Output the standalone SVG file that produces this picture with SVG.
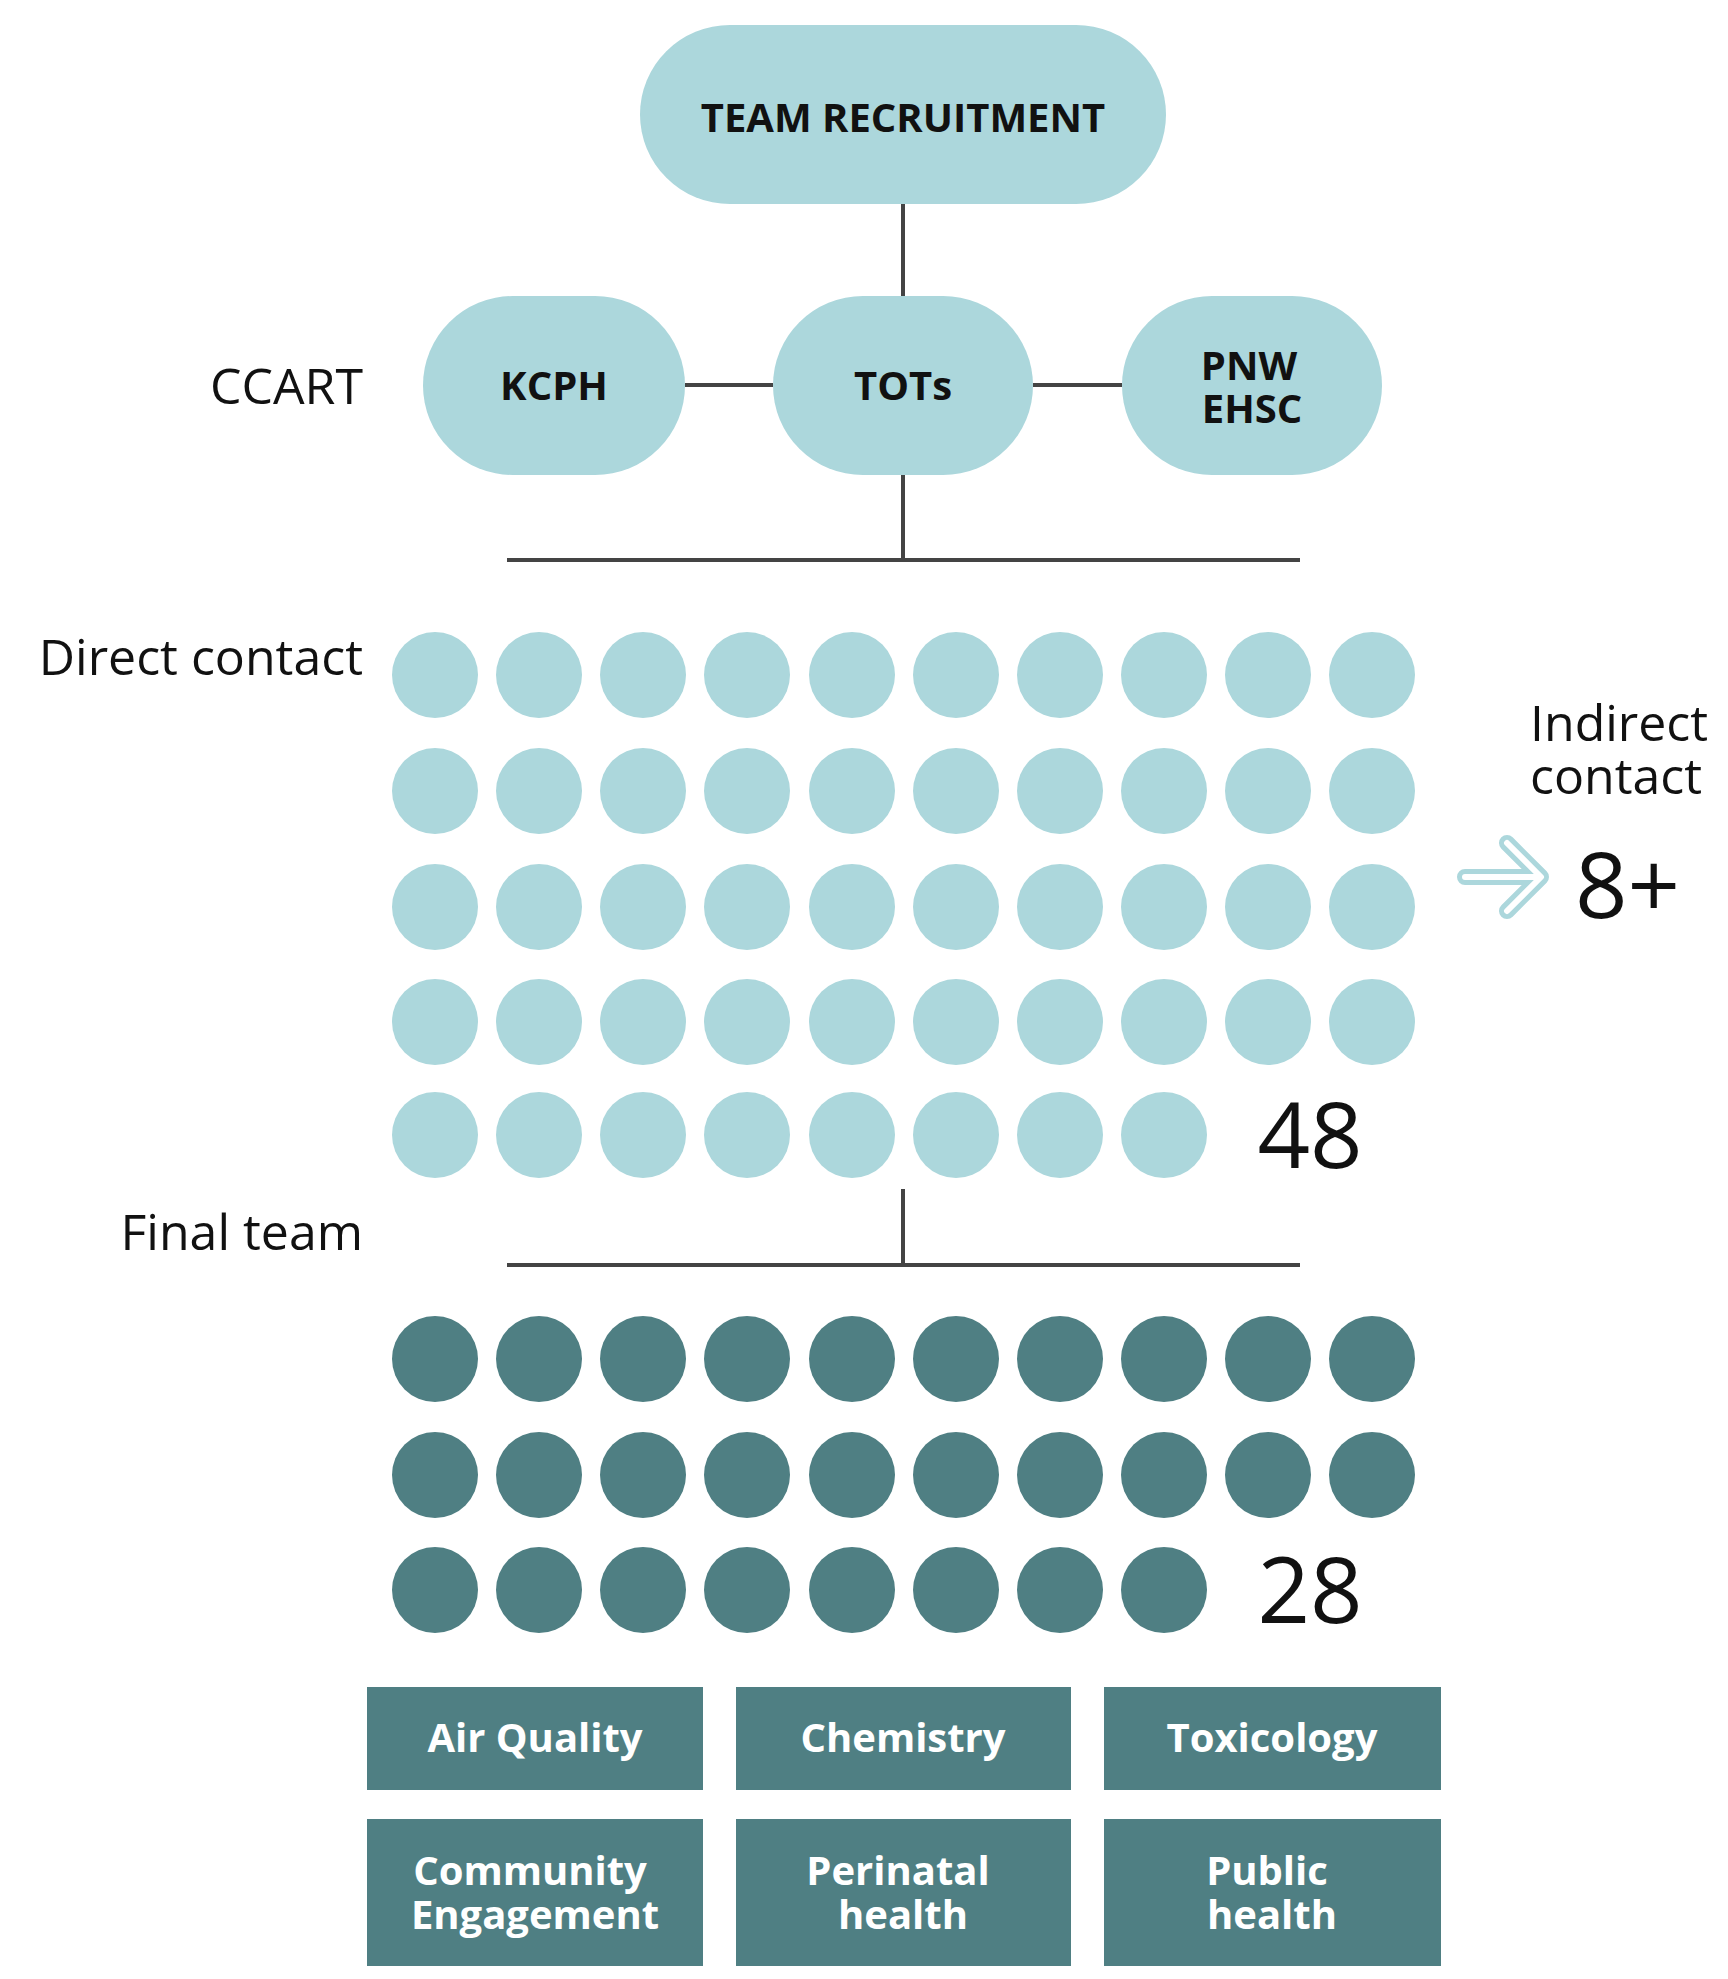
<svg xmlns="http://www.w3.org/2000/svg" width="1728" height="1979" viewBox="0 0 1728 1979">
<style>
.pill{fill:#acd7dc}
.lbl{font-family:"Open Sans",sans-serif;font-weight:bold;font-size:40px;fill:#111;text-anchor:middle}
.side{font-family:"Open Sans",sans-serif;font-size:50px;fill:#111}
.big{font-family:"Open Sans",sans-serif;font-size:92px;fill:#111}
.lt{fill:#acd7dc}
.dk{fill:#4f7f83}
.box{fill:#4f7f83}
.bl{font-family:"Open Sans",sans-serif;font-weight:bold;font-size:40px;fill:#fff;text-anchor:middle}
.ln{stroke:#444;stroke-width:4;fill:none}
</style>
<rect width="1728" height="1979" fill="#fff"/>
<g transform="translate(-5,-3)">
<g id="connectors">
<line class="ln" x1="908" y1="207" x2="908" y2="299"/>
<line class="ln" x1="690" y1="388" x2="778" y2="388" stroke-width="5"/>
<line class="ln" x1="1038" y1="388" x2="1127" y2="388" stroke-width="5"/>
<line class="ln" x1="908" y1="478" x2="908" y2="563"/>
<line class="ln" x1="512" y1="563" x2="1305" y2="563"/>
<line class="ln" x1="908" y1="1192" x2="908" y2="1268"/>
<line class="ln" x1="512" y1="1268" x2="1305" y2="1268"/>
<path d="M1470 880 H1542 M1512 846 L1546 880 L1512 914" fill="none" stroke="#acd7dc" stroke-width="16" stroke-linecap="round" stroke-linejoin="round"/>
<path d="M1470 880 H1542 M1512 846 L1546 880 L1512 914" fill="none" stroke="#fff" stroke-width="6" stroke-linecap="round" stroke-linejoin="round"/>
</g>
<g id="team-recruitment"><rect class="pill" x="645" y="28" width="526" height="179" rx="90"/><text class="lbl" x="908" y="135">TEAM RECRUITMENT</text></g>
<g id="kcph"><rect class="pill" x="428" y="299" width="262" height="179" rx="90"/><text class="lbl" x="559" y="403">KCPH</text></g>
<g id="tots"><rect class="pill" x="778" y="299" width="260" height="179" rx="90"/><text class="lbl" x="908" y="403">TOTs</text></g>
<g id="pnw"><rect class="pill" x="1127" y="299" width="260" height="179" rx="90"/><text class="lbl" x="1254" y="383">PNW</text><text class="lbl" x="1257" y="426">EHSC</text></g>
<text class="side" x="368" y="407" text-anchor="end">CCART</text>
<text class="side" x="368" y="678" text-anchor="end">Direct contact</text>
<text class="side" x="1535" y="744">Indirect</text>
<text class="side" x="1535" y="797">contact</text>
<text class="big" x="1580" y="921">8+</text>
<text class="side" x="368" y="1253" text-anchor="end">Final team</text>
<g id="direct-contact" class="lt">
<g><circle cx="440" cy="678" r="43"/><circle cx="544" cy="678" r="43"/><circle cx="648" cy="678" r="43"/><circle cx="752" cy="678" r="43"/><circle cx="857" cy="678" r="43"/><circle cx="961" cy="678" r="43"/><circle cx="1065" cy="678" r="43"/><circle cx="1169" cy="678" r="43"/><circle cx="1273" cy="678" r="43"/><circle cx="1377" cy="678" r="43"/></g>
<g><circle cx="440" cy="794" r="43"/><circle cx="544" cy="794" r="43"/><circle cx="648" cy="794" r="43"/><circle cx="752" cy="794" r="43"/><circle cx="857" cy="794" r="43"/><circle cx="961" cy="794" r="43"/><circle cx="1065" cy="794" r="43"/><circle cx="1169" cy="794" r="43"/><circle cx="1273" cy="794" r="43"/><circle cx="1377" cy="794" r="43"/></g>
<g><circle cx="440" cy="910" r="43"/><circle cx="544" cy="910" r="43"/><circle cx="648" cy="910" r="43"/><circle cx="752" cy="910" r="43"/><circle cx="857" cy="910" r="43"/><circle cx="961" cy="910" r="43"/><circle cx="1065" cy="910" r="43"/><circle cx="1169" cy="910" r="43"/><circle cx="1273" cy="910" r="43"/><circle cx="1377" cy="910" r="43"/></g>
<g><circle cx="440" cy="1025" r="43"/><circle cx="544" cy="1025" r="43"/><circle cx="648" cy="1025" r="43"/><circle cx="752" cy="1025" r="43"/><circle cx="857" cy="1025" r="43"/><circle cx="961" cy="1025" r="43"/><circle cx="1065" cy="1025" r="43"/><circle cx="1169" cy="1025" r="43"/><circle cx="1273" cy="1025" r="43"/><circle cx="1377" cy="1025" r="43"/></g>
<g><circle cx="440" cy="1138" r="43"/><circle cx="544" cy="1138" r="43"/><circle cx="648" cy="1138" r="43"/><circle cx="752" cy="1138" r="43"/><circle cx="857" cy="1138" r="43"/><circle cx="961" cy="1138" r="43"/><circle cx="1065" cy="1138" r="43"/><circle cx="1169" cy="1138" r="43"/></g>
</g>
<text class="big" x="1315" y="1171" text-anchor="middle">48</text>
<g id="final-team" class="dk">
<g><circle cx="440" cy="1362" r="43"/><circle cx="544" cy="1362" r="43"/><circle cx="648" cy="1362" r="43"/><circle cx="752" cy="1362" r="43"/><circle cx="857" cy="1362" r="43"/><circle cx="961" cy="1362" r="43"/><circle cx="1065" cy="1362" r="43"/><circle cx="1169" cy="1362" r="43"/><circle cx="1273" cy="1362" r="43"/><circle cx="1377" cy="1362" r="43"/></g>
<g><circle cx="440" cy="1478" r="43"/><circle cx="544" cy="1478" r="43"/><circle cx="648" cy="1478" r="43"/><circle cx="752" cy="1478" r="43"/><circle cx="857" cy="1478" r="43"/><circle cx="961" cy="1478" r="43"/><circle cx="1065" cy="1478" r="43"/><circle cx="1169" cy="1478" r="43"/><circle cx="1273" cy="1478" r="43"/><circle cx="1377" cy="1478" r="43"/></g>
<g><circle cx="440" cy="1593" r="43"/><circle cx="544" cy="1593" r="43"/><circle cx="648" cy="1593" r="43"/><circle cx="752" cy="1593" r="43"/><circle cx="857" cy="1593" r="43"/><circle cx="961" cy="1593" r="43"/><circle cx="1065" cy="1593" r="43"/><circle cx="1169" cy="1593" r="43"/></g>
</g>
<text class="big" x="1315" y="1626" text-anchor="middle">28</text>
<g id="air-quality"><rect class="box" x="372" y="1690" width="336" height="103"/><text class="bl" x="540" y="1755">Air Quality</text></g>
<g id="chemistry"><rect class="box" x="741" y="1690" width="335" height="103"/><text class="bl" x="908" y="1755">Chemistry</text></g>
<g id="toxicology"><rect class="box" x="1109" y="1690" width="337" height="103"/><text class="bl" x="1277" y="1755">Toxicology</text></g>
<g id="community"><rect class="box" x="372" y="1822" width="336" height="147"/><text class="bl" x="535" y="1888">Community</text><text class="bl" x="540" y="1932">Engagement</text></g>
<g id="perinatal"><rect class="box" x="741" y="1822" width="335" height="147"/><text class="bl" x="903" y="1888">Perinatal</text><text class="bl" x="908" y="1932">health</text></g>
<g id="public"><rect class="box" x="1109" y="1822" width="337" height="147"/><text class="bl" x="1272" y="1888">Public</text><text class="bl" x="1277" y="1932">health</text></g>
</g>
</svg>
